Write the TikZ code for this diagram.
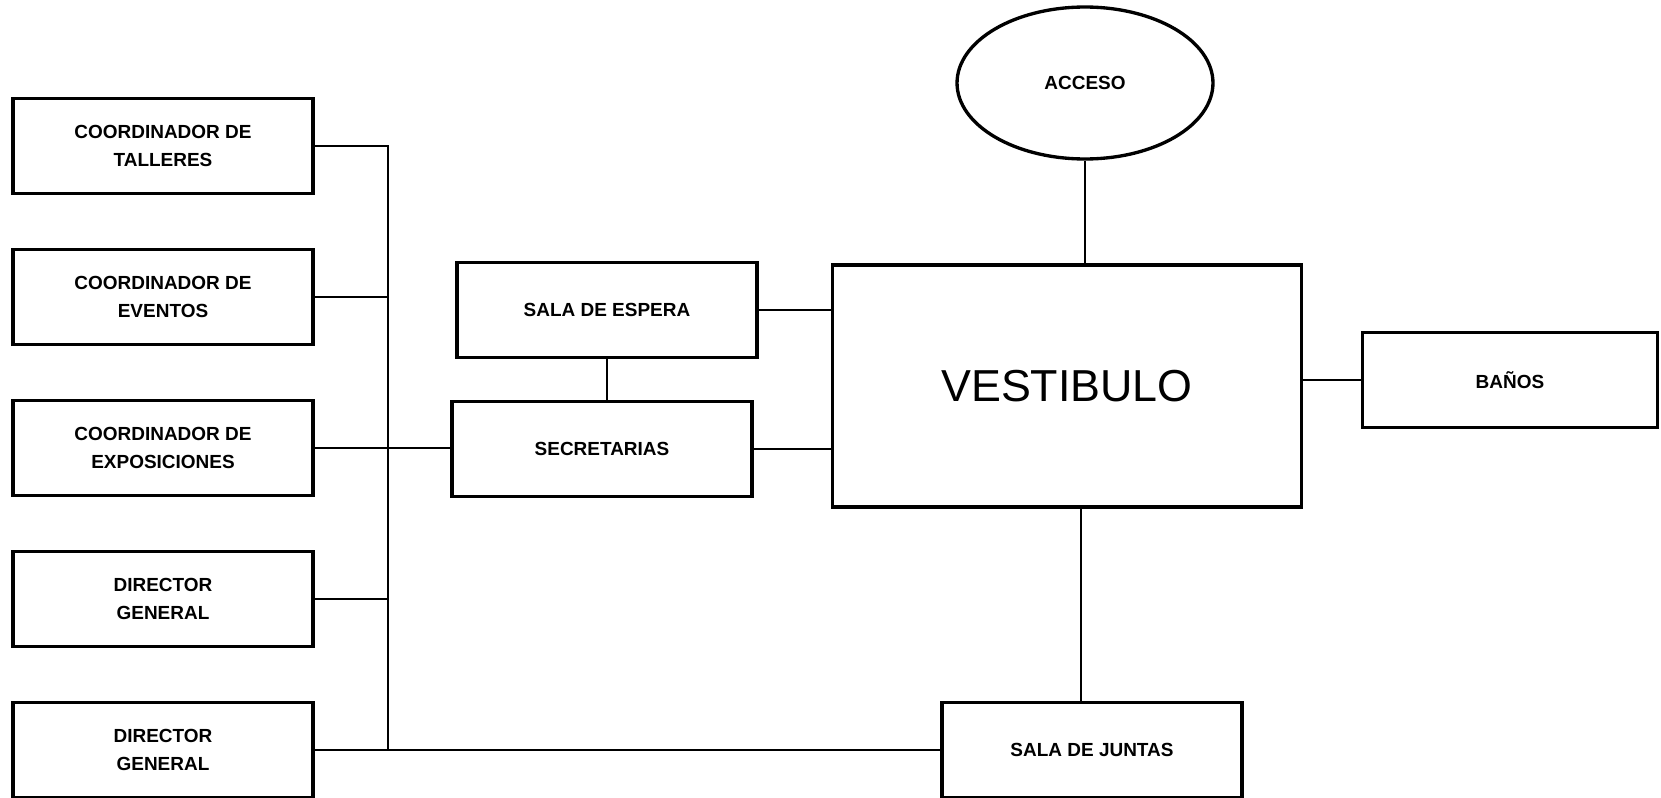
\documentclass[tikz,border=0pt]{standalone}
\usepackage{fontspec}
\setmainfont{Liberation Sans}
\usepackage{tikz}
\usetikzlibrary{positioning, shapes.geometric}

\tikzset{
  sala/.style={draw, line width=1.9pt, minimum width=6cm, minimum height=1.9cm,
    inner sep=0pt, align=center, font=\bfseries\fontsize{10.8}{16}\selectfont},
  wire/.style={line width=1.1pt}
}

\begin{document}
\begin{tikzpicture}[x=0.02cm, y=-0.02cm, node distance=3.02cm]
\useasboundingbox (0,0) rectangle (1661,798);

\node (talleres) [sala] at (163,146) {COORDINADOR DE\\TALLERES};
\node (eventos) [sala, below of=talleres] {COORDINADOR DE\\EVENTOS};
\node (exposiciones) [sala, below of=eventos] {COORDINADOR DE\\EXPOSICIONES};
\node (director1) [sala, below of=exposiciones] {DIRECTOR\\GENERAL};
\node (director2) [sala, below of=director1] {DIRECTOR\\GENERAL};

\node (espera) [sala] at (607,310) {SALA DE ESPERA};
\node (secretarias) [sala] at (602,449) {SECRETARIAS};
\node (vestibulo) [sala, minimum width=9.38cm, minimum height=4.84cm,
  font=\fontsize{25.5}{30}\selectfont] at (1067,386) {VESTIBULO};
\node (banos) [sala, minimum width=5.9cm] at (1510,380) {BAÑOS};
\node (juntas) [sala] at (1092,750) {SALA DE JUNTAS};
\node (acceso) [sala, ellipse, minimum width=5.12cm, minimum height=3.04cm] at (1085,83) {ACCESO};

\coordinate (bus) at (388,0);

\draw[wire] (talleres.east) -- (talleres.east -| bus) -- (director2.east -| bus);
\draw[wire] (eventos.east) -- (eventos.east -| bus);
\draw[wire] (exposiciones.east) -- (exposiciones.east -| secretarias.west);
\draw[wire] (director1.east) -- (director1.east -| bus);
\draw[wire] (director2.east) -- (director2.east -| juntas.west);
\draw[wire] (espera.south) -- (espera.south |- secretarias.north);
\draw[wire] (espera.east) -- (espera.east -| vestibulo.west);
\draw[wire] (secretarias.east) -- (secretarias.east -| vestibulo.west);
\draw[wire] (acceso.south) -- (acceso.south |- vestibulo.north);
\draw[wire] (vestibulo.east |- banos.west) -- (banos.west);
\draw[wire] ([xshift=0.28cm]vestibulo.south) -- ([xshift=0.28cm]vestibulo.south |- juntas.north);
\end{tikzpicture}
\end{document}
